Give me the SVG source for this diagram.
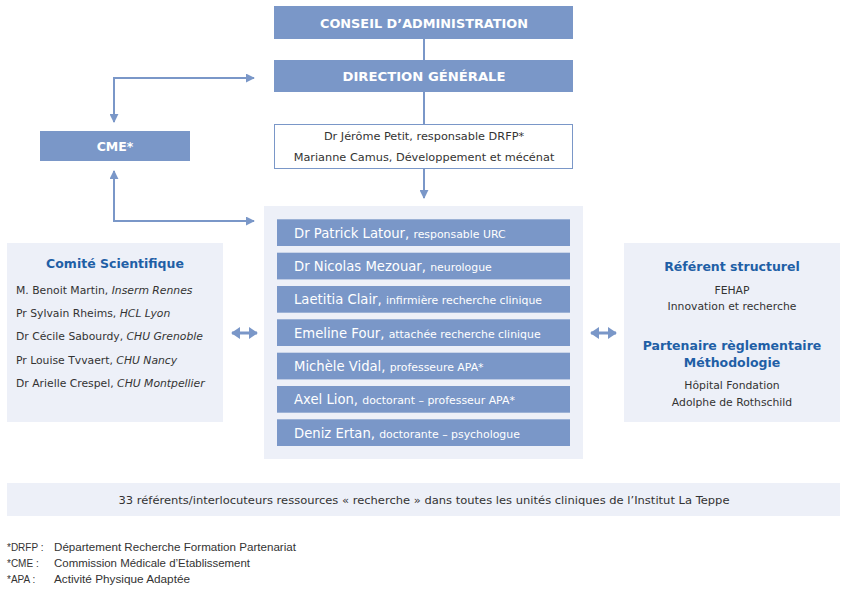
<svg xmlns="http://www.w3.org/2000/svg" width="848" height="593" viewBox="0 0 848 593">
<defs>
<style>
.blue{fill:#7a97c8}
.pale{fill:#edf0f8}
.hd{font-family:"DejaVu Sans","Liberation Sans",sans-serif;font-weight:bold;fill:#fff;font-size:12.5px;text-anchor:middle}
.tx{font-family:"DejaVu Sans","Liberation Sans",sans-serif;fill:#333;font-size:10.8px}
.tb{font-size:11.3px}
.ttl{font-family:"DejaVu Sans","Liberation Sans",sans-serif;font-weight:bold;fill:#1f5fa6;font-size:12.5px;text-anchor:middle}
.nm{font-family:"DejaVu Sans","Liberation Sans",sans-serif;fill:#fff;font-size:13.2px}
.rl{font-size:10.9px}
.ln{stroke:#7a97c8;stroke-width:2;fill:none}
.cn{font-family:"Liberation Sans",Arial,sans-serif;fill:#333;font-size:10px}
</style>
<marker id="ah" viewBox="0 0 10 10" refX="9" refY="5" markerWidth="9" markerHeight="9" markerUnits="userSpaceOnUse" orient="auto">
<path d="M0,0 L10,5 L0,10 z" fill="#7a97c8"/>
</marker>
<marker id="dh" viewBox="0 0 10 10" refX="9" refY="5" markerWidth="9" markerHeight="12" markerUnits="userSpaceOnUse" orient="auto-start-reverse" preserveAspectRatio="none">
<path d="M0,0 L10,5 L0,10 z" fill="#7a97c8"/>
</marker>
</defs>
<rect width="848" height="593" fill="#fff"/>

<g id="connectors">
<line class="ln" x1="424" y1="39" x2="424" y2="60"/>
<line class="ln" x1="424" y1="92" x2="424" y2="124"/>
<line class="ln" x1="424" y1="169" x2="424" y2="198" marker-end="url(#ah)"/>
<polyline class="ln" points="114,122 114,78 254,78" marker-end="url(#ah)"/>
<line class="ln" x1="114" y1="78" x2="114" y2="122" marker-end="url(#ah)"/>
<polyline class="ln" points="114,171 114,221 254,221" marker-end="url(#ah)"/>
<line class="ln" x1="114" y1="221" x2="114" y2="171" marker-end="url(#ah)"/>
<line x1="232" y1="333" x2="257" y2="333" stroke="#7a97c8" stroke-width="3" marker-start="url(#dh)" marker-end="url(#dh)"/>
<line x1="591" y1="333" x2="616" y2="333" stroke="#7a97c8" stroke-width="3" marker-start="url(#dh)" marker-end="url(#dh)"/>
</g>

<g id="conseil">
<rect class="blue" x="274" y="6" width="299" height="33"/>
<text class="hd" x="424" y="28" textLength="208" lengthAdjust="spacingAndGlyphs">CONSEIL D’ADMINISTRATION</text>
</g>
<g id="direction">
<rect class="blue" x="274" y="60" width="299" height="32"/>
<text class="hd" x="424" y="81" textLength="163" lengthAdjust="spacingAndGlyphs">DIRECTION GÉNÉRALE</text>
</g>
<g id="drfp">
<rect x="274.5" y="124.5" width="298" height="44" fill="#fff" stroke="#7a97c8" stroke-width="1"/>
<text class="tx tb" x="424" y="140" text-anchor="middle">Dr Jérôme Petit, responsable DRFP*</text>
<text class="tx tb" x="424" y="161" text-anchor="middle">Marianne Camus, Développement et mécénat</text>
</g>
<g id="cme">
<rect class="blue" x="40" y="131" width="150" height="30"/>
<text class="hd" x="115" y="151">CME*</text>
</g>

<g id="equipe">
<rect class="pale" x="264" y="206" width="319" height="253"/>
<rect class="blue" x="277" y="219.3" width="293" height="26.7"/>
<rect class="blue" x="277" y="252.7" width="293" height="26.7"/>
<rect class="blue" x="277" y="286" width="293" height="26.7"/>
<rect class="blue" x="277" y="319.3" width="293" height="26.7"/>
<rect class="blue" x="277" y="352.7" width="293" height="26.7"/>
<rect class="blue" x="277" y="386" width="293" height="26.7"/>
<rect class="blue" x="277" y="419.3" width="293" height="26.7"/>
<text class="nm" x="294" y="238">Dr Patrick Latour, <tspan class="rl">responsable URC</tspan></text>
<text class="nm" x="294" y="271">Dr Nicolas Mezouar, <tspan class="rl">neurologue</tspan></text>
<text class="nm" x="294" y="304">Laetitia Clair, <tspan class="rl">infirmière recherche clinique</tspan></text>
<text class="nm" x="294" y="338">Emeline Four, <tspan class="rl">attachée recherche clinique</tspan></text>
<text class="nm" x="294" y="371">Michèle Vidal, <tspan class="rl">professeure APA*</tspan></text>
<text class="nm" x="294" y="404">Axel Lion, <tspan class="rl">doctorant – professeur APA*</tspan></text>
<text class="nm" x="294" y="438">Deniz Ertan, <tspan class="rl">doctorante – psychologue</tspan></text>
</g>

<g id="comite">
<rect class="pale" x="7" y="243" width="216" height="179"/>
<text class="ttl" x="115" y="268">Comité Scientifique</text>
<text class="tx" x="16" y="294">M. Benoit Martin, <tspan font-style="italic">Inserm Rennes</tspan></text>
<text class="tx" x="16" y="317">Pr Sylvain Rheims, <tspan font-style="italic">HCL Lyon</tspan></text>
<text class="tx" x="16" y="340">Dr Cécile Sabourdy, <tspan font-style="italic">CHU Grenoble</tspan></text>
<text class="tx" x="16" y="364">Pr Louise Tvvaert, <tspan font-style="italic">CHU Nancy</tspan></text>
<text class="tx" x="16" y="387">Dr Arielle Crespel, <tspan font-style="italic">CHU Montpellier</tspan></text>
</g>

<g id="partenaires">
<rect class="pale" x="624" y="243" width="216" height="179"/>
<text class="ttl" x="732" y="271">Référent structurel</text>
<text class="tx" x="732" y="294" text-anchor="middle">FEHAP</text>
<text class="tx" x="732" y="310" text-anchor="middle">Innovation et recherche</text>
<text class="ttl" x="732" y="350">Partenaire règlementaire</text>
<text class="ttl" x="732" y="367">Méthodologie</text>
<text class="tx" x="732" y="389" text-anchor="middle">Hôpital Fondation</text>
<text class="tx" x="732" y="406" text-anchor="middle">Adolphe de Rothschild</text>
</g>

<g id="referents">
<rect class="pale" x="7" y="483" width="833" height="33"/>
<text class="tx" x="424" y="504" text-anchor="middle" font-family="Liberation Sans, Arial, sans-serif" textLength="611" lengthAdjust="spacingAndGlyphs">33 référents/interlocuteurs ressources « recherche » dans toutes les unités cliniques de l’Institut La Teppe</text>
</g>

<g id="notes">
<text class="cn" x="7" y="551">*DRFP :</text>
<text class="cn" x="54" y="551" textLength="242" lengthAdjust="spacingAndGlyphs">Département Recherche Formation Partenariat</text>
<text class="cn" x="7" y="567">*CME :</text>
<text class="cn" x="54" y="567" textLength="196" lengthAdjust="spacingAndGlyphs">Commission Médicale d’Etablissement</text>
<text class="cn" x="7" y="583">*APA :</text>
<text class="cn" x="54" y="583" textLength="136" lengthAdjust="spacingAndGlyphs">Activité Physique Adaptée</text>
</g>
</svg>
